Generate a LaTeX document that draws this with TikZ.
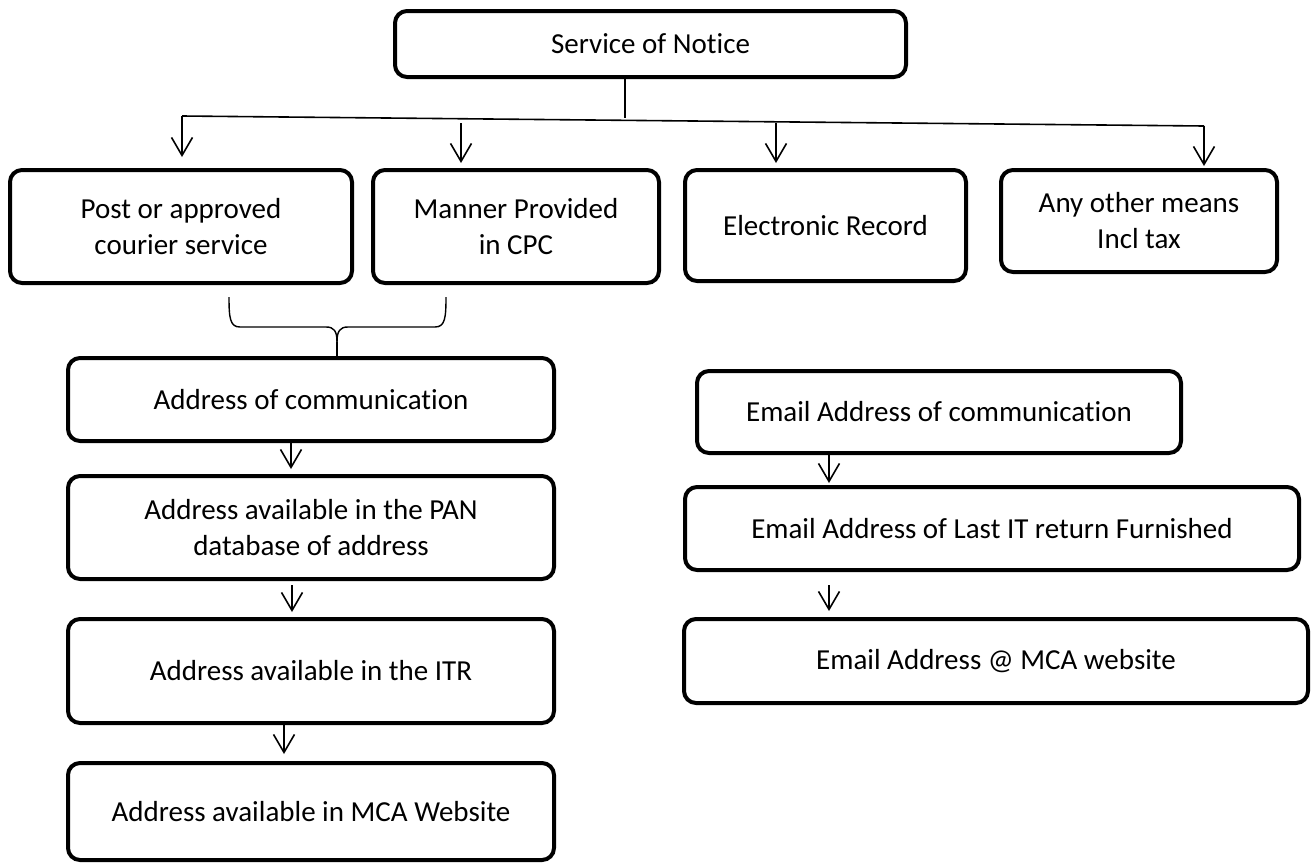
\documentclass[tikz,border=0pt]{standalone}
\usepackage{fontspec}
\setmainfont{Carlito}[Ligatures={NoCommon}]
\usetikzlibrary{arrows.meta}
\begin{document}
\begin{tikzpicture}[x=1pt,y=-1pt,
  box/.style={draw=black, line width=4pt, rounded corners=12pt, align=center,
    inner sep=0pt, font=\fontsize{29}{36}\selectfont},
  conn/.style={draw=black, line width=1.6pt},
  arr/.style={conn, -{Straight Barb[length=18pt,width=21pt,line width=1.6pt]}}]
\useasboundingbox (0,0) rectangle (1312,865);
% nodes
\node[box, minimum width=511pt, minimum height=66pt] (top) at (650.5,44) {Service of Notice};
\node[box, minimum width=342pt, minimum height=113pt] (post) at (181,226.5) {Post or approved\\courier service};
\node[box, minimum width=286pt, minimum height=113pt] (cpc) at (516,226.5) {Manner Provided\\in CPC};
\node[box, minimum width=281pt, minimum height=111pt] (elec) at (825.5,225.5) {Electronic Record};
\node[box, minimum width=276pt, minimum height=102pt] (other) at (1139,221) {Any other means\\Incl tax};
\node[box, minimum width=486pt, minimum height=83pt] (comm) at (311,399.5) {Address of communication};
\node[box, minimum width=486pt, minimum height=103pt] (pan) at (311,527.5) {Address available in the PAN\\database of address};
\node[box, minimum width=486pt, minimum height=104pt] (itr) at (311,671) {Address available in the ITR};
\node[box, minimum width=486pt, minimum height=97pt] (mca) at (311,811.5) {Address available in MCA Website};
\node[box, minimum width=484pt, minimum height=82pt] (ecomm) at (939,412) {Email Address of communication};
\node[box, minimum width=614pt, minimum height=83pt] (elast) at (992,528.5) {Email Address of Last IT return Furnished};
\node[box, minimum width=624pt, minimum height=84pt] (emca) at (996,661) {Email Address @ MCA website};
% junction coordinates
\coordinate (j) at (625,118);
\coordinate (hl) at (182,116);
\coordinate (hr) at (1204,126);
\coordinate (a2) at (461,123);
\coordinate (a3) at (776,123);
\coordinate (bl) at (229,297);
\coordinate (br) at (446,297);
\coordinate (bm) at (337,342);
\coordinate (x1) at (291,0);
\coordinate (x2) at (292,0);
\coordinate (x3) at (284,0);
\coordinate (x4) at (829,0);
% top fan-out
\draw[conn] (top.south -| j) -- (j);
\draw[conn] (hl) -- (hr);
\draw[arr, shorten >=11pt] (hl) -- (post.north -| hl);
\draw[arr, shorten >=5pt] (a2) -- (cpc.north -| a2);
\draw[arr, shorten >=5pt] (a3) -- (elec.north -| a3);
\draw[arr, shorten >=2pt] (hr) -- (other.north -| hr);
% brace
\draw[conn, line width=1.4pt] (bl) .. controls (229,318) and (230,327) .. (240,327) -- (326,327)
  .. controls (334,327) and (337,331) .. (bm);
\draw[conn, line width=1.4pt] (br) .. controls (446,318) and (445,327) .. (435,327) -- (348,327)
  .. controls (340,327) and (337,331) .. (bm);
\draw[conn, line width=1.4pt] (bm) -- (comm.north -| bm);
% left chain
\draw[arr, shorten >=5pt] (comm.south -| x1) -- (pan.north -| x1);
\draw[arr, shorten <=4pt, shorten >=5pt] (pan.south -| x2) -- (itr.north -| x2);
\draw[arr, shorten >=7pt] (itr.south -| x3) -- (mca.north -| x3);
% right chain
\draw[arr, shorten >=2pt] (ecomm.south -| x4) -- (elast.north -| x4);
\draw[arr, shorten <=13pt, shorten >=6pt] (elast.south -| x4) -- (emca.north -| x4);
\end{tikzpicture}
\end{document}
